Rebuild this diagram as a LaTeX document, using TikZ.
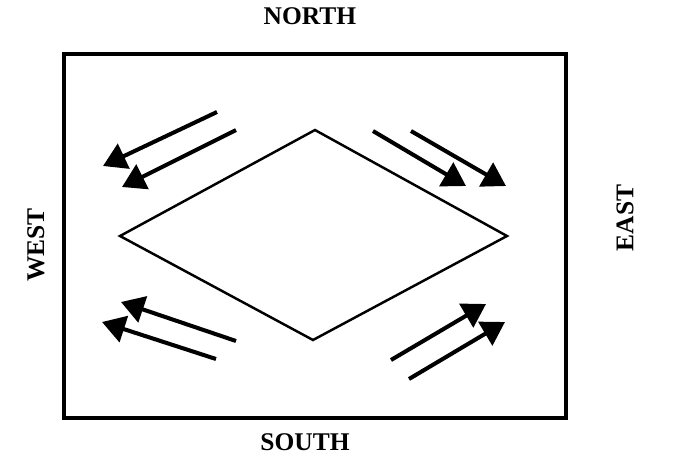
\documentclass[tikz,border=0pt]{standalone}
\usepackage{fontspec}
\setmainfont{Liberation Serif}
\usetikzlibrary{arrows.meta}
\begin{document}
\begin{tikzpicture}[x=0.02cm, y=-0.02cm, every node/.style={font=\fontsize{14.5}{16}\selectfont\bfseries}]
	\useasboundingbox (0,0) rectangle (680,461);
	% 外框
	\draw[line width=1.8pt] (64,54) rectangle (566,418);
	% 菱形
	\draw[line width=1.4pt] (315,130) -- (507,236) -- (313,340) -- (120,236) -- cycle;
	% 方位
	\node (north) at (310,16) {NORTH};
	\node (south) at (305,442) {SOUTH};
	\node[rotate=90] (west) at (36,245) {WEST};
	\node[rotate=90] (east) at (625,218) {EAST};
	% 西北箭头
	\draw[-{Triangle[length=0.46cm, width=0.54cm]}, line width=2.3pt] (217,112) -- (103,166);
	\draw[-{Triangle[length=0.46cm, width=0.54cm]}, line width=2.3pt] (236,130) -- (122,187);
	% 东北箭头
	\draw[-{Triangle[length=0.46cm, width=0.54cm]}, line width=2.3pt] (373,131) -- (466,186);
	\draw[-{Triangle[length=0.46cm, width=0.54cm]}, line width=2.3pt] (411,131) -- (506,186);
	% 西南箭头
	\draw[-{Triangle[length=0.46cm, width=0.54cm]}, line width=2.3pt] (236,341) -- (121,302);
	\draw[-{Triangle[length=0.46cm, width=0.54cm]}, line width=2.3pt] (216,359) -- (102,322);
	% 东南箭头
	\draw[-{Triangle[length=0.46cm, width=0.54cm]}, line width=2.3pt] (391,360) -- (486,304);
	\draw[-{Triangle[length=0.46cm, width=0.54cm]}, line width=2.3pt] (409,379) -- (505,322);
\end{tikzpicture}
\end{document}
